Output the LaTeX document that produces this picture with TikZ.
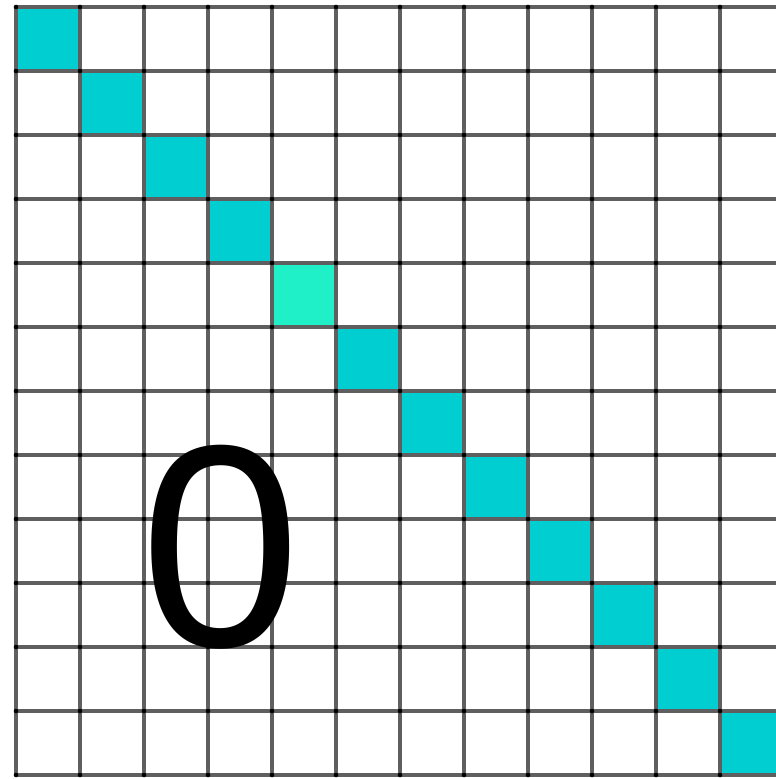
\documentclass[tikz,border=0pt]{standalone}
\usepackage{fontspec}
\setmainfont{Liberation Sans}
\definecolor{diagcyan}{RGB}{0,206,208}
\definecolor{diaghi}{RGB}{32,240,200}
\definecolor{gridgray}{RGB}{95,95,95}
\begin{document}
\begin{tikzpicture}[x=0.01cm,y=-0.01cm,
  cellfill/.style={fill=diagcyan},
  hifill/.style={fill=diaghi},
  gridline/.style={draw=gridgray,line width=0.9pt},
  griddot/.style={fill=black},
  bigtext/.style={font=\fontsize{82}{82}\selectfont,inner sep=0pt}]
\useasboundingbox (0,0) rectangle (776,779);
\fill[white] (0,0) rectangle (776,779);
\begin{scope}
\clip (0,0) rectangle (776,779);
% diagonal cells
\foreach \i in {0,...,11}{
  \ifnum\i=4
    \fill[hifill] (16+\i*64,7+\i*64) rectangle ++(64,64);
  \else
    \fill[cellfill] (16+\i*64,7+\i*64) rectangle ++(64,64);
  \fi
}
% grid lines
\foreach \i in {0,...,12}{
  \draw[gridline] (16+\i*64,7) -- (16+\i*64,775);
  \draw[gridline] (16,7+\i*64) -- (800,7+\i*64);
}
% intersection dots
\foreach \i in {0,...,12}{
  \foreach \j in {0,...,12}{
    \fill[griddot] (16+\i*64,7+\j*64) circle (2.3);
  }
}
\end{scope}
\node[bigtext] (zero) at (221,547) {0};
\end{tikzpicture}
\end{document}
